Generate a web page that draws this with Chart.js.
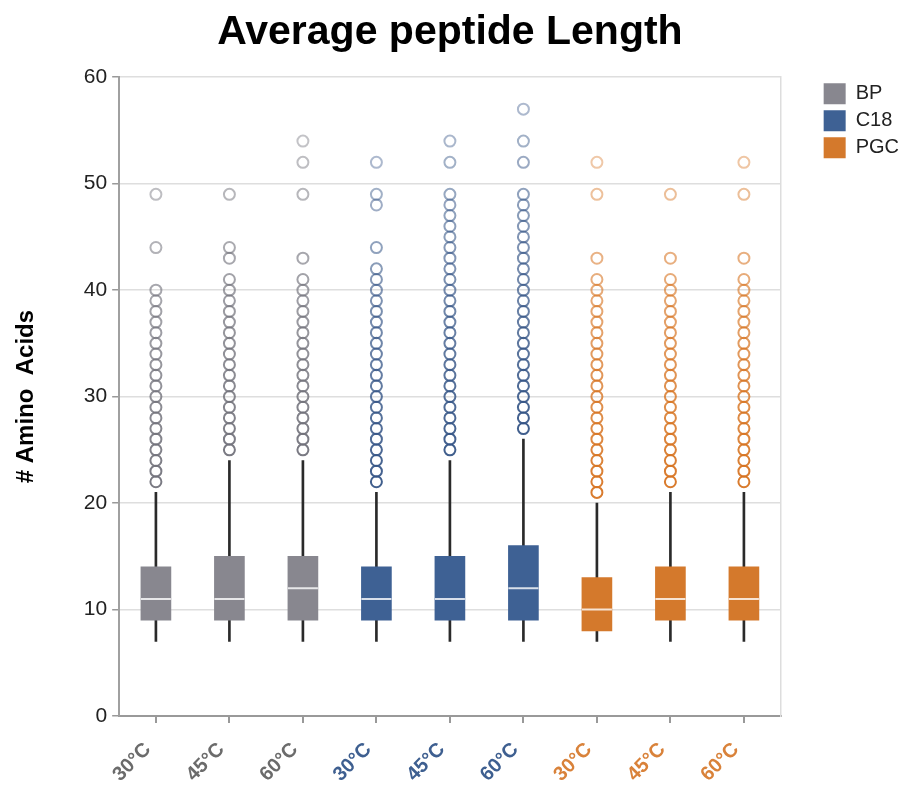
<!DOCTYPE html>
<html>
<head>
<meta charset="utf-8">
<script src="https://cdn.jsdelivr.net/npm/chart.js@4/dist/chart.umd.min.js"></script>
<style>
  html, body { margin: 0; padding: 0; background: #fff; }
  #wrap { width: 909px; height: 791px; }
</style>
</head>
<body>
<div id="wrap"><canvas id="chart"></canvas></div>
<script>
const GROUPS = ['BP', 'C18', 'PGC']
const TEMPS = ['30°C', '45°C', '60°C']
const CATEGORIES = ['BP 30°C', 'BP 45°C', 'BP 60°C', 'C18 30°C', 'C18 45°C', 'C18 60°C', 'PGC 30°C', 'PGC 45°C', 'PGC 60°C']
const Y_TICKS = [0, 10, 20, 30, 40, 50, 60]

const whiskerLow  = [7, 7, 7, 7, 7, 7, 7, 7, 7]
const q1          = [9, 9, 9, 9, 9, 9, 8, 9, 9]
const median      = [11, 11, 12, 11, 11, 12, 10, 11, 11]
const q3          = [14, 15, 15, 14, 15, 16, 13, 14, 14]
const whiskerHigh = [21, 24, 24, 21, 24, 26, 20, 21, 21]

const outliers = [
  [22, 23, 24, 25, 26, 27, 28, 29, 30, 31, 32, 33, 34, 35, 36, 37, 38, 39, 40, 44, 49],
  [25, 26, 27, 28, 29, 30, 31, 32, 33, 34, 35, 36, 37, 38, 39, 40, 41, 43, 44, 49],
  [25, 26, 27, 28, 29, 30, 31, 32, 33, 34, 35, 36, 37, 38, 39, 40, 41, 43, 49, 52, 54],
  [22, 23, 24, 25, 26, 27, 28, 29, 30, 31, 32, 33, 34, 35, 36, 37, 38, 39, 40, 41, 42, 44, 48, 49, 52],
  [25, 26, 27, 28, 29, 30, 31, 32, 33, 34, 35, 36, 37, 38, 39, 40, 41, 42, 43, 44, 45, 46, 47, 48, 49, 52, 54],
  [27, 28, 29, 30, 31, 32, 33, 34, 35, 36, 37, 38, 39, 40, 41, 42, 43, 44, 45, 46, 47, 48, 49, 52, 54, 57],
  [21, 22, 23, 24, 25, 26, 27, 28, 29, 30, 31, 32, 33, 34, 35, 36, 37, 38, 39, 40, 41, 43, 49, 52],
  [22, 23, 24, 25, 26, 27, 28, 29, 30, 31, 32, 33, 34, 35, 36, 37, 38, 39, 40, 41, 43, 49],
  [22, 23, 24, 25, 26, 27, 28, 29, 30, 31, 32, 33, 34, 35, 36, 37, 38, 39, 40, 41, 43, 49, 52],
]

const BOX_COLORS = ['#88878f', '#3e6194', '#d4792c']
const TICK_COLORS = ['#6b6b6b', '#3e5f90', '#d9823a']
const OUTLIER_RGB = ['115,115,124', '55,86,135', '215,116,34']

const groupOf = i => Math.floor(i / 3)

// outlier rings: faint towards the sparse top of each column
function outlierColor(g) {
  return ctx => {
    const raw = ctx.raw
    if (!raw) return 'transparent'
    const i = CATEGORIES.indexOf(raw.x)
    const d = raw.y - outliers[i][0]
    const a = Math.max(0.35, 0.95 - 0.018 * d)
    return `rgba(${OUTLIER_RGB[g]},${a})`
  }
}

const datasets = []

// whisker line, min to max, behind the box
datasets.push({
  type: 'bar',
  label: 'whisker',
  data: CATEGORIES.map((c, i) => [whiskerLow[i], whiskerHigh[i]]),
  backgroundColor: '#2a2a2a',
  barThickness: 2,
  grouped: false,
  order: 4,
})

GROUPS.forEach((name, g) => {
  datasets.push({
    type: 'bar',
    label: name,
    data: CATEGORIES.map((c, i) => groupOf(i) === g ? [q1[i], q3[i]] : null),
    backgroundColor: BOX_COLORS[g],
    borderWidth: 0,
    barThickness: 30,
    grouped: false,
    order: 3,
  })
})

datasets.push({
  type: 'line',
  label: 'median',
  data: median,
  showLine: false,
  pointStyle: 'line',
  pointRadius: 15,
  pointBorderWidth: 2,
  pointBorderColor: 'rgba(255,255,255,0.8)',
  order: 2,
})

GROUPS.forEach((name, g) => {
  const pts = []
  CATEGORIES.forEach((c, i) => {
    if (groupOf(i) === g) outliers[i].forEach(v => pts.push({ x: c, y: v }))
  })
  datasets.push({
    type: 'line',
    label: name + ' outliers',
    data: pts,
    showLine: false,
    pointStyle: 'circle',
    pointRadius: 5.5,
    pointBorderWidth: 2,
    pointBackgroundColor: 'transparent',
    pointBorderColor: outlierColor(g),
    order: 1,
  })
})

new Chart(document.getElementById('chart'), {
  data: { labels: CATEGORIES, datasets },
  options: {
    responsive: true,
    maintainAspectRatio: false,
    animation: false,
    events: [],
    layout: { padding: { left: 12, right: 0, top: 0, bottom: 0 } },
    plugins: {
      title: {
        display: true,
        fullSize: false,
        text: 'Average peptide Length',
        color: '#000',
        font: { family: 'Liberation Sans', size: 41, weight: 'bold' },
        padding: { top: 8, bottom: 20 },
      },
      legend: {
        position: 'right',
        align: 'start',
        fullSize: false,
        labels: {
          filter: item => GROUPS.includes(item.text),
          boxWidth: 22,
          boxHeight: 21,
          padding: 6,
          color: '#222',
          font: { family: 'Liberation Sans', size: 20 },
        },
      },
      tooltip: { enabled: false },
    },
    scales: {
      x: {
        type: 'category',
        offset: true,
        afterFit: axis => { axis.height = 75 },
        grid: { offset: false, drawOnChartArea: false, tickLength: 7, color: '#999', lineWidth: 2 },
        border: { color: '#999', width: 2 },
        ticks: {
          minRotation: 45,
          maxRotation: 45,
          padding: 15,
          labelOffset: -8,
          callback: (v, i) => TEMPS[i % 3],
          color: ctx => TICK_COLORS[groupOf(ctx.index)],
          font: { family: 'Liberation Sans', size: 20, weight: 'bold' },
        },
      },
      y: {
        min: 0,
        max: 60,
        afterBuildTicks: axis => { axis.ticks = Y_TICKS.map(v => ({ value: v })) },
        grid: { color: '#dedede', lineWidth: 1.5, tickLength: 7, tickColor: '#999' },
        border: { color: '#a0a0a0', width: 2 },
        ticks: {
          padding: 5,
          color: '#222',
          font: { family: 'Liberation Sans', size: 21 },
        },
        title: {
          display: true,
          text: '# Amino  Acids',
          color: '#000',
          font: { family: 'Liberation Sans', size: 24, weight: 'bold' },
          padding: { top: 0, bottom: 38 },
        },
      },
      yRight: {
        position: 'right',
        display: true,
        min: 0,
        max: 60,
        afterFit: axis => { axis.width = 37 },
        ticks: { display: false },
        grid: { display: false, drawTicks: false },
        border: { display: true, color: '#ddd', width: 1.5 },
      },
    },
  },
})
</script>
</body>
</html>
